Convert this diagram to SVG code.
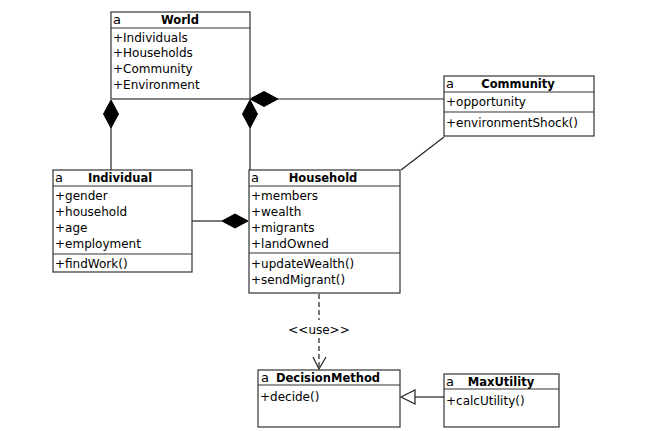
<svg xmlns="http://www.w3.org/2000/svg" width="672" height="431" viewBox="0 0 672 431">
<style>
.box{fill:#fff;stroke:#333;stroke-width:1.2}
.sep{stroke:#333;stroke-width:1.2}
.t{font-family:"DejaVu Sans",Verdana,sans-serif;font-size:12px;fill:#000}
.b{font-family:"DejaVu Sans",Verdana,sans-serif;font-size:11.5px;font-weight:bold;fill:#000;text-anchor:middle}
.ic{font-family:"DejaVu Sans",Verdana,sans-serif;font-size:13px;fill:#000}
.ln{stroke:#222;stroke-width:1.2;fill:none}
.dm{fill:#000;stroke:#000;stroke-width:1}
</style>
<rect width="672" height="431" fill="#fff"/>
<g id="connectors">
<line class="ln" x1="111" y1="128" x2="111" y2="170"/>
<polygon class="dm" points="111,100 118.5,114 111,128 103.5,114"/>
<line class="ln" x1="250" y1="128" x2="250" y2="170"/>
<polygon class="dm" points="250,100 257.5,114 250,128 242.5,114"/>
<line class="ln" x1="278" y1="99" x2="444" y2="99"/>
<polygon class="dm" points="250,99 264,91.5 278,99 264,106.5"/>
<line class="ln" x1="192" y1="221" x2="222" y2="221"/>
<polygon class="dm" points="248,221 235,214 222,221 235,228"/>
<line class="ln" x1="444" y1="137" x2="401" y2="170"/>
<line class="ln" x1="319" y1="294" x2="319" y2="320" stroke-dasharray="5,3"/>
<line class="ln" x1="319" y1="338" x2="319" y2="368" stroke-dasharray="5,3"/>
<text class="t" x="319" y="334" text-anchor="middle">&lt;&lt;use&gt;&gt;</text>
<polyline class="ln" points="313,357 319,369 326,357"/>
<line class="ln" x1="415" y1="397" x2="444" y2="397"/>
<polygon class="ln" points="401,397 415,390 415,404" style="fill:#fff"/>
</g>
<g id="World">
<rect class="box" x="111" y="12" width="139" height="87"/>
<line class="sep" x1="111" y1="28" x2="250" y2="28"/>
<text class="ic" x="113" y="24">a</text>
<text class="b" x="180" y="24">World</text>
<text class="t" x="113" y="42">+Individuals</text>
<text class="t" x="113" y="57">+Households</text>
<text class="t" x="113" y="73">+Community</text>
<text class="t" x="113" y="89">+Environment</text>
</g>
<g id="Community">
<rect class="box" x="444" y="76" width="150" height="60"/>
<line class="sep" x1="444" y1="92" x2="594" y2="92"/>
<line class="sep" x1="444" y1="112" x2="594" y2="112"/>
<text class="ic" x="446" y="88">a</text>
<text class="b" x="518" y="88">Community</text>
<text class="t" x="446" y="106">+opportunity</text>
<text class="t" x="446" y="127">+environmentShock()</text>
</g>
<g id="Individual">
<rect class="box" x="53" y="170" width="139" height="102"/>
<line class="sep" x1="53" y1="186" x2="192" y2="186"/>
<line class="sep" x1="53" y1="254" x2="192" y2="254"/>
<text class="ic" x="55" y="182">a</text>
<text class="b" x="120" y="182">Individual</text>
<text class="t" x="55" y="200">+gender</text>
<text class="t" x="55" y="216">+household</text>
<text class="t" x="55" y="232">+age</text>
<text class="t" x="55" y="248">+employment</text>
<text class="t" x="55" y="268">+findWork()</text>
</g>
<g id="Household">
<rect class="box" x="249" y="170" width="151" height="123"/>
<line class="sep" x1="249" y1="186" x2="400" y2="186"/>
<line class="sep" x1="249" y1="253" x2="400" y2="253"/>
<text class="ic" x="251" y="182">a</text>
<text class="b" x="323" y="182">Household</text>
<text class="t" x="251" y="200">+members</text>
<text class="t" x="251" y="216">+wealth</text>
<text class="t" x="251" y="232">+migrants</text>
<text class="t" x="251" y="248">+landOwned</text>
<text class="t" x="251" y="268">+updateWealth()</text>
<text class="t" x="251" y="284">+sendMigrant()</text>
</g>
<g id="DecisionMethod">
<rect class="box" x="258" y="370" width="142" height="57"/>
<line class="sep" x1="258" y1="385" x2="400" y2="385"/>
<text class="ic" x="261" y="382">a</text>
<text class="b" x="328" y="382">DecisionMethod</text>
<text class="t" x="260" y="401">+decide()</text>
</g>
<g id="MaxUtility">
<rect class="box" x="444" y="374" width="115" height="53"/>
<line class="sep" x1="444" y1="389" x2="559" y2="389"/>
<text class="ic" x="446" y="386">a</text>
<text class="b" x="501" y="386">MaxUtility</text>
<text class="t" x="446" y="405">+calcUtility()</text>
</g>
</svg>
